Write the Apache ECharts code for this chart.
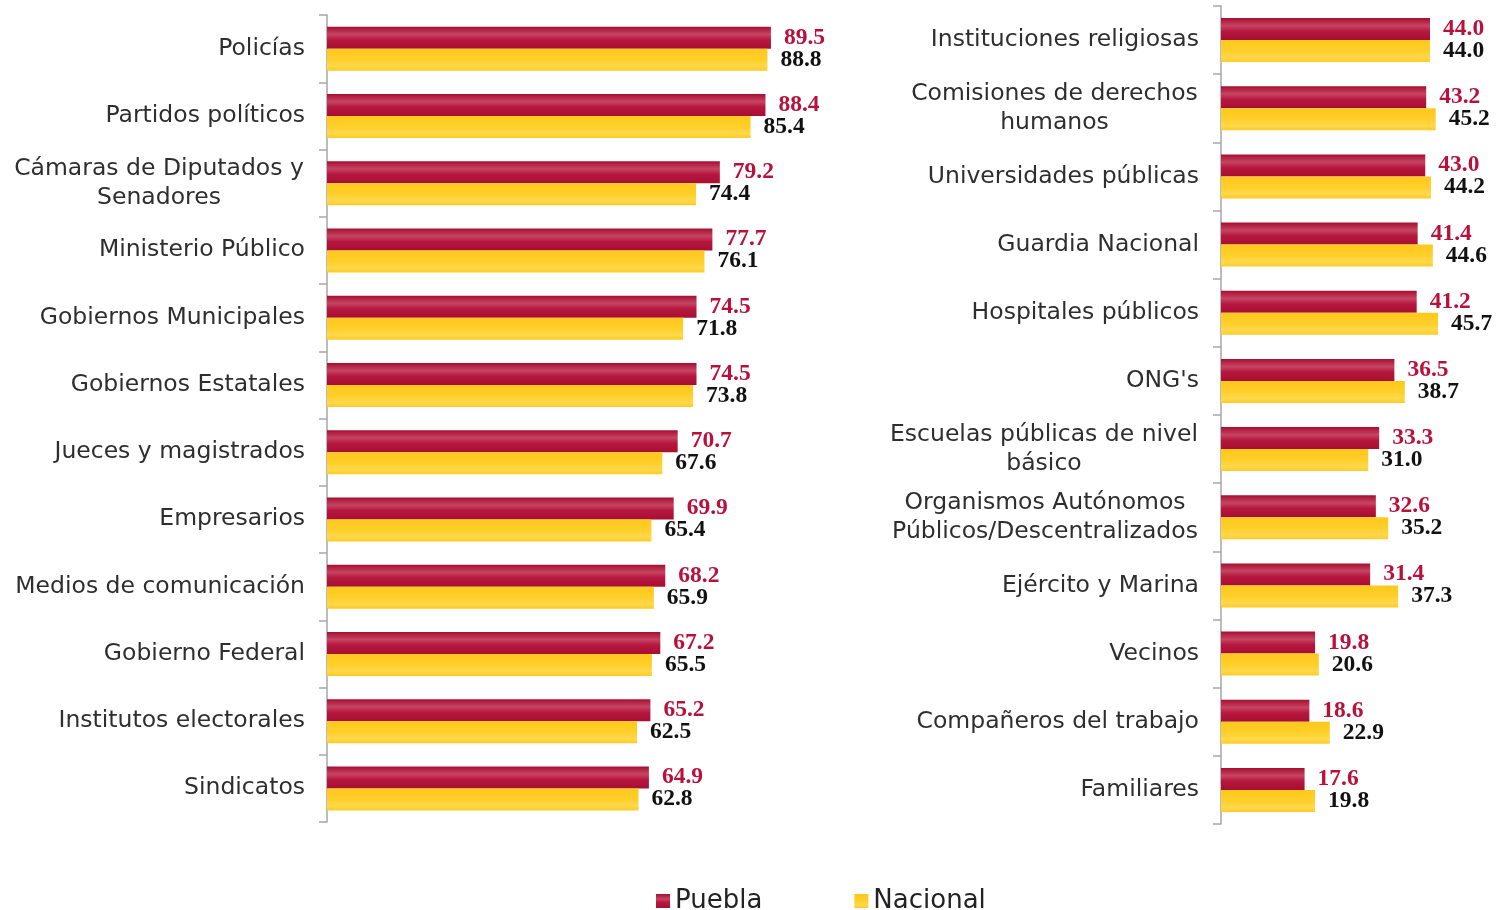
<!DOCTYPE html>
<html>
<head>
<meta charset="utf-8">
<script src="https://cdn.jsdelivr.net/npm/echarts@6/dist/echarts.min.js"></script>
<style>
  html, body { margin: 0; padding: 0; background: #fff; }
  #chart { width: 1499px; height: 910px; }
</style>
</head>
<body>
<div id="chart"></div>
<script>
  // panel izquierdo
  var catsLeft = ['Policías', 'Partidos políticos', 'Cámaras de Diputados y\nSenadores', 'Ministerio Público',
    'Gobiernos Municipales', 'Gobiernos Estatales', 'Jueces y magistrados', 'Empresarios',
    'Medios de comunicación', 'Gobierno Federal', 'Institutos electorales', 'Sindicatos'];
  var pueblaLeft = [89.5, 88.4, 79.2, 77.7, 74.5, 74.5, 70.7, 69.9, 68.2, 67.2, 65.2, 64.9];
  var nacionalLeft = [88.8, 85.4, 74.4, 76.1, 71.8, 73.8, 67.6, 65.4, 65.9, 65.5, 62.5, 62.8];

  // panel derecho
  var catsRight = ['Instituciones religiosas', 'Comisiones de derechos\nhumanos', 'Universidades públicas',
    'Guardia Nacional', 'Hospitales públicos', "ONG's", 'Escuelas públicas de nivel\nbásico',
    'Organismos Autónomos\nPúblicos/Descentralizados', 'Ejército y Marina', 'Vecinos',
    'Compañeros del trabajo', 'Familiares'];
  var pueblaRight = [44.0, 43.2, 43.0, 41.4, 41.2, 36.5, 33.3, 32.6, 31.4, 19.8, 18.6, 17.6];
  var nacionalRight = [44.0, 45.2, 44.2, 44.6, 45.7, 38.7, 31.0, 35.2, 37.3, 20.6, 22.9, 19.8];

  var FONT = 'DejaVu Sans';
  var FS = 23.5;
  var ctx = document.createElement('canvas').getContext('2d');
  ctx.font = FS + 'px "' + FONT + '"';

  // etiquetas de varias líneas centradas entre sí
  function makeLabel(cats) {
    var rich = {};
    cats.forEach(function (c, i) {
      var lines = c.split('\n');
      if (lines.length > 1) {
        var w = Math.max.apply(null, lines.map(function (l) { return ctx.measureText(l).width; }));
        rich['c' + i] = { width: Math.ceil(w) + 2, align: 'center', fontFamily: FONT, fontSize: FS, color: '#2e2e2e', lineHeight: 29 };
      }
    });
    return {
      margin: 22,
      color: '#2e2e2e',
      fontFamily: FONT,
      fontSize: FS,
      lineHeight: 29,
      rich: rich,
      formatter: function (v, i) {
        var lines = v.split('\n');
        if (lines.length === 1) return v;
        return lines.map(function (l) { return '{c' + i + '|' + l + '}'; }).join('\n');
      }
    };
  }

  var redGrad = new echarts.graphic.LinearGradient(0, 0, 0, 1, [
    { offset: 0, color: '#A50E31' },
    { offset: 0.35, color: '#C64562' },
    { offset: 0.6, color: '#B7173F' },
    { offset: 1, color: '#A60F32' }
  ]);
  var yellowGrad = new echarts.graphic.LinearGradient(0, 0, 0, 1, [
    { offset: 0, color: '#FFC81C' },
    { offset: 0.5, color: '#FFCF2A' },
    { offset: 0.8, color: '#FFD84C' },
    { offset: 1, color: '#FFCB22' }
  ]);

  function valLabel(color) {
    return {
      show: true,
      position: 'right',
      distance: 13,
      color: color,
      fontFamily: 'Liberation Serif',
      fontWeight: 'bold',
      fontSize: 23.5,
      formatter: function (p) { return p.value.toFixed(1); }
    };
  }

  function catAxis(cats, gi) {
    return {
      type: 'category',
      gridIndex: gi,
      inverse: true,
      data: cats,
      axisLine: { show: true, lineStyle: { color: '#A6A6A6', width: 1.5 } },
      axisTick: { show: true, length: 8, lineStyle: { color: '#A6A6A6', width: 1.5 } },
      axisLabel: makeLabel(cats)
    };
  }

  function bar(name, data, xi, grad, lblColor) {
    return {
      name: name,
      type: 'bar',
      xAxisIndex: xi,
      yAxisIndex: xi,
      data: data,
      barWidth: 22,
      barGap: '0%',
      itemStyle: { color: grad },
      label: valLabel(lblColor),
      silent: true,
      animation: false
    };
  }

  var chart = echarts.init(document.getElementById('chart'));
  chart.setOption({
    backgroundColor: '#fff',
    animation: false,
    legend: {
      data: ['Puebla', 'Nacional'],
      left: 651,
      top: 883,
      icon: 'rect',
      itemWidth: 14,
      itemHeight: 14,
      itemGap: 92,
      textStyle: { fontFamily: FONT, fontSize: 26, color: '#222' },
      selectedMode: false
    },
    grid: [
      { left: 327, top: 15, width: 496, height: 807 },
      { left: 1221, top: 6, width: 237.5, height: 818 }
    ],
    xAxis: [
      { type: 'value', gridIndex: 0, min: 0, max: 100, show: false },
      { type: 'value', gridIndex: 1, min: 0, max: 50, show: false }
    ],
    yAxis: [catAxis(catsLeft, 0), catAxis(catsRight, 1)],
    series: [
      bar('Puebla', pueblaLeft, 0, redGrad, '#B8123C'),
      bar('Nacional', nacionalLeft, 0, yellowGrad, '#111'),
      bar('Puebla', pueblaRight, 1, redGrad, '#B8123C'),
      bar('Nacional', nacionalRight, 1, yellowGrad, '#111')
    ]
  });
</script>
</body>
</html>
